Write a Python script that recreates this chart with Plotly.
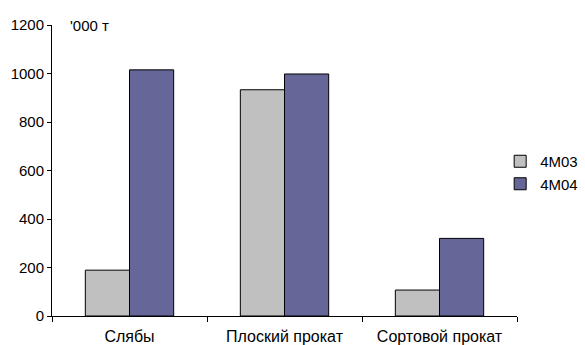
import plotly.graph_objects as go

# Production volumes, thousand tonnes
categories = ["Слябы", "Плоский прокат", "Сортовой прокат"]
series_names = ["4M03", "4M04"]
values_4m03 = [189, 933, 107]
values_4m04 = [1015, 998, 320]
y_ticks = [0, 200, 400, 600, 800, 1000, 1200]

FONT = "Liberation Sans, Arial, sans-serif"
colors = ["#C0C0C0", "#666699"]

fig = go.Figure()
for name, vals, col in zip(series_names, [values_4m03, values_4m04], colors):
    fig.add_trace(go.Bar(
        x=categories, y=vals, name=name,
        marker=dict(color=col, line=dict(color="#000000", width=1)),
    ))

fig.update_layout(
    width=585, height=345,
    margin=dict(l=52, r=68, t=25, b=29, autoexpand=False),
    paper_bgcolor="white", plot_bgcolor="white",
    barmode="group", bargap=0.43, bargroupgap=0,
    font=dict(family=FONT, size=16, color="#000000"),
    showlegend=True,
    legend=dict(
        xref="container", yref="container",
        x=0.855, xanchor="left", y=0.50, yanchor="middle",
        font=dict(family=FONT, size=15, color="#000000"),
        bgcolor="rgba(0,0,0,0)", tracegroupgap=0, itemwidth=30,
    ),
    xaxis=dict(
        type="category", range=[-0.5, 2.5],
        showline=True, linecolor="#000000", linewidth=1,
        ticks="outside", ticklen=5, tickcolor="#000000", tickson="boundaries",
        ticklabelstandoff=6,
        showgrid=False, zeroline=False,
        tickfont=dict(family=FONT, size=16),
    ),
    yaxis=dict(
        range=[0, 1200], tickvals=y_ticks,
        showline=True, linecolor="#000000", linewidth=1,
        ticks="outside", ticklen=4, tickcolor="#000000",
        showgrid=False, zeroline=False,
        tickfont=dict(family=FONT, size=15),
    ),
)

fig.add_annotation(
    text="'000 т", xref="paper", yref="paper", x=0.035, y=1.0,
    xanchor="left", yanchor="middle", showarrow=False,
    font=dict(family=FONT, size=15, color="#000000"),
)

fig.write_html("out.html")
